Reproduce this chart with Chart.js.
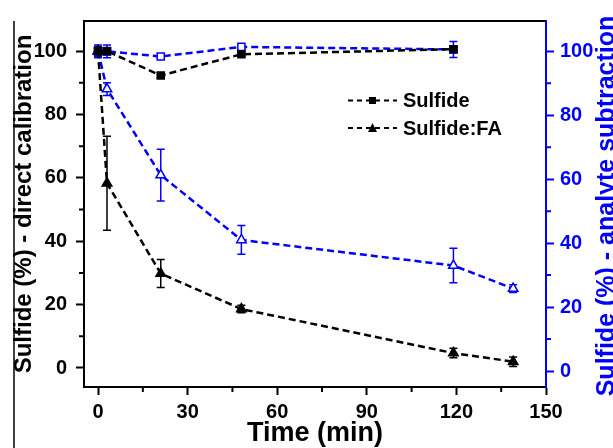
<!DOCTYPE html>
<html>
<head>
<meta charset="utf-8">
<script src="https://cdn.jsdelivr.net/npm/chart.js@4.4.1/dist/chart.umd.min.js"></script>
<style>
  html, body { margin: 0; padding: 0; background: #fff; }
  #wrap { position: relative; width: 613px; height: 448px; }
</style>
</head>
<body>
<div id="wrap"><canvas id="sulfideChart"></canvas></div>
<script>
"use strict";

// values (min, %)
const sulfideTime = [0, 3, 21, 48, 119];
const sulfideDirect = [100, 100, 92.3, 99, 100.6];
const sulfideDirectErr = [0.8, 0.8, 0.8, 0.6, 0.8];
const sulfideSub = [100, 100, 98.4, 101.4, 100.6];
const sulfideSubErr = [2, 2, 0.8, 0.8, 2.5];

const faTime = [0, 3, 21, 48, 119, 139];
const faDirect = [100, 58.3, 29.8, 18.6, 4.7, 2.0];
const faDirectErr = [0.8, 14.8, 4.4, 1.2, 1.5, 1.5];
const faSub = [100, 88.2, 61.3, 41, 33, 25.8];
const faSubErr = [1.5, 2, 8.1, 4.5, 5.4, 1.2];

const timeTicks = [0, 30, 60, 90, 120, 150];
const timeMinor = [15, 45, 75, 105, 135];
const pctTicks = [0, 20, 40, 60, 80, 100];
const pctMinor = [10, 30, 50, 70, 90];

const legendLabels = ["Sulfide", "Sulfide:FA"];

const BLACK = "#000000";
const BLUE = "#0000ff";
const FONT = "'Liberation Sans', Arial, sans-serif";

const toPoints = (xs, ys) => xs.map((x, i) => ({ x: x, y: ys[i] }));

function series(label, xs, ys, errs, axis, color, style, filled, radius) {
  return {
    label: label,
    data: toPoints(xs, ys),
    errors: errs,
    yAxisID: axis,
    borderColor: color,
    borderWidth: 2.5,
    borderDash: [7, 4],
    tension: 0,
    pointStyle: style,
    pointRadius: radius,
    pointBorderWidth: 1.5,
    pointBorderColor: color,
    pointBackgroundColor: filled ? color : "#ffffff",
  };
}

// error bars, minor ticks, frame, legend and right title
const decoPlugin = {
  id: "deco",
  beforeDatasetsDraw(chart) {
    const ctx = chart.ctx;
    const xs = chart.scales.x;
    chart.data.datasets.forEach((ds) => {
      const ys = chart.scales[ds.yAxisID];
      ctx.save();
      ctx.strokeStyle = ds.borderColor;
      ctx.lineWidth = 1.5;
      ds.data.forEach((p, j) => {
        const e = ds.errors[j];
        const px = xs.getPixelForValue(p.x);
        const y1 = ys.getPixelForValue(p.y + e);
        const y2 = ys.getPixelForValue(p.y - e);
        ctx.beginPath();
        ctx.moveTo(px, y1); ctx.lineTo(px, y2);
        ctx.moveTo(px - 4, y1); ctx.lineTo(px + 4, y1);
        ctx.moveTo(px - 4, y2); ctx.lineTo(px + 4, y2);
        ctx.stroke();
      });
      ctx.restore();
    });
  },
  afterDraw(chart) {
    const ctx = chart.ctx;
    const area = chart.chartArea;
    const { x, yL, yR } = chart.scales;
    ctx.save();

    // frame lines
    ctx.strokeStyle = BLACK;
    ctx.lineWidth = 2;
    ctx.beginPath();
    ctx.moveTo(area.left, area.top);
    ctx.lineTo(area.right, area.top);
    ctx.stroke();
    ctx.lineWidth = 1.5;
    ctx.beginPath();
    ctx.moveTo(14, area.top);
    ctx.lineTo(14, chart.height);
    ctx.stroke();

    // minor ticks
    ctx.lineWidth = 2;
    ctx.beginPath();
    timeMinor.forEach((v) => {
      const px = x.getPixelForValue(v);
      ctx.moveTo(px, area.bottom);
      ctx.lineTo(px, area.bottom + 5);
    });
    pctMinor.forEach((v) => {
      const py = yL.getPixelForValue(v);
      ctx.moveTo(area.left, py);
      ctx.lineTo(area.left - 5, py);
    });
    ctx.stroke();
    ctx.strokeStyle = BLUE;
    ctx.beginPath();
    pctMinor.forEach((v) => {
      const py = yR.getPixelForValue(v);
      ctx.moveTo(area.right, py);
      ctx.lineTo(area.right + 5, py);
    });
    ctx.stroke();

    // legend
    const rows = [100.5, 128];
    legendLabels.forEach((label, i) => {
      const ds = chart.data.datasets[i];
      const y = rows[i];
      ctx.strokeStyle = BLACK;
      ctx.lineWidth = 2;
      ctx.setLineDash([5, 4]);
      ctx.beginPath();
      ctx.moveTo(348, y);
      ctx.lineTo(397, y);
      ctx.stroke();
      ctx.setLineDash([]);
      ctx.fillStyle = BLACK;
      ctx.beginPath();
      if (ds.pointStyle === "rect") {
        ctx.rect(369, y - 3.5, 7, 7);
      } else {
        ctx.moveTo(372.5, y - 5);
        ctx.lineTo(377, y + 4);
        ctx.lineTo(368, y + 4);
        ctx.closePath();
      }
      ctx.fill();
      ctx.font = "bold 20px " + FONT;
      ctx.textAlign = "left";
      ctx.textBaseline = "middle";
      ctx.fillText(label, 403, y + 1);
    });

    // right axis title reads bottom-to-top like the left one
    ctx.translate(607, 206);
    ctx.rotate(-Math.PI / 2);
    ctx.font = "bold 25px " + FONT;
    ctx.fillStyle = BLUE;
    ctx.textAlign = "center";
    ctx.textBaseline = "middle";
    ctx.fillText("Sulfide (%) - analyte subtraction", 0, 0);
    ctx.restore();
  },
};

const tickFont = { family: FONT, size: 20, weight: "bold" };

new Chart(document.getElementById("sulfideChart"), {
  type: "line",
  data: {
    datasets: [
      series("Sulfide", sulfideTime, sulfideDirect, sulfideDirectErr, "yL", BLACK, "rect", true, 5),
      series("Sulfide:FA", faTime, faDirect, faDirectErr, "yL", BLACK, "triangle", true, 5.5),
      series("Sulfide (sub)", sulfideTime, sulfideSub, sulfideSubErr, "yR", BLUE, "rect", false, 5),
      series("Sulfide:FA (sub)", faTime, faSub, faSubErr, "yR", BLUE, "triangle", false, 5.5),
    ],
  },
  options: {
    responsive: true,
    maintainAspectRatio: false,
    animation: false,
    layout: { padding: { top: 13, left: 0, right: 0, bottom: 0 } },
    plugins: {
      legend: { display: false },
      tooltip: { enabled: false },
    },
    scales: {
      x: {
        type: "linear",
        min: -4.7,
        max: 150,
        afterBuildTicks: (s) => { s.ticks = timeTicks.map((v) => ({ value: v })); },
        afterFit: (s) => { s.height = 61; },
        ticks: { font: tickFont, color: BLACK, padding: 5, maxRotation: 0 },
        grid: { drawOnChartArea: false, tickLength: 8, tickWidth: 2, tickColor: BLACK },
        border: { color: BLACK, width: 2 },
        title: {
          display: true,
          text: "Time (min)",
          color: BLACK,
          font: { family: FONT, size: 27, weight: "bold", lineHeight: 1 },
          padding: { top: 0, bottom: 1 },
        },
      },
      yL: {
        type: "linear",
        position: "left",
        min: -6,
        max: 109.5,
        afterBuildTicks: (s) => { s.ticks = pctTicks.map((v) => ({ value: v })); },
        afterFit: (s) => { s.width = 84; },
        ticks: { font: tickFont, color: BLACK, padding: 9 },
        grid: { drawOnChartArea: false, tickLength: 8, tickWidth: 2, tickColor: BLACK },
        border: { color: BLACK, width: 2 },
        title: {
          display: true,
          text: "Sulfide (%) - direct calibration",
          color: BLACK,
          font: { family: FONT, size: 24, weight: "bold" },
          padding: { top: 10, bottom: 0 },
        },
      },
      yR: {
        type: "linear",
        position: "right",
        min: -5,
        max: 109.5,
        afterBuildTicks: (s) => { s.ticks = pctTicks.map((v) => ({ value: v })); },
        afterFit: (s) => { s.width = 67; },
        ticks: { font: tickFont, color: BLUE, padding: 6 },
        grid: { drawOnChartArea: false, tickLength: 8, tickWidth: 2, tickColor: BLUE },
        border: { color: BLUE, width: 2 },
      },
    },
  },
  plugins: [decoPlugin],
});
</script>
</body>
</html>
